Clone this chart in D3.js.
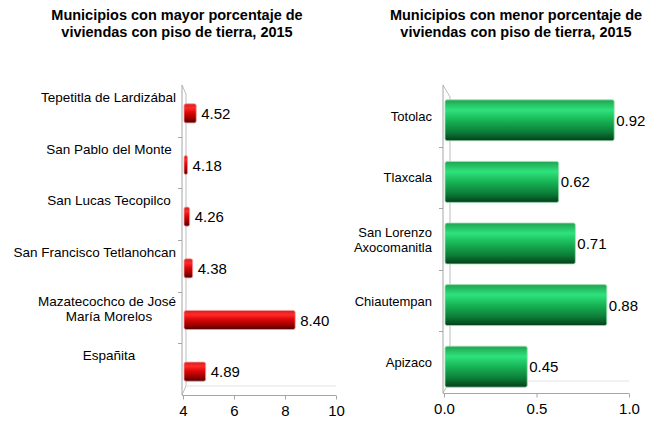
<!DOCTYPE html>
<html>
<head>
<meta charset="utf-8">
<script src="https://cdn.jsdelivr.net/npm/d3@7"></script>
<style>
    body { margin: 0; background: #fff; }
    svg text { font-family: 'Liberation Sans', Arial, sans-serif; fill: #000; }
</style>
</head>
<body>
<div id="charts"></div>
<script>
// datos
const mayorCategories = ['Tepetitla de Lardizábal', 'San Pablo del Monte', 'San Lucas Tecopilco',
    'San Francisco Tetlanohcan', 'Mazatecochco de José María Morelos', 'Españita'];
const mayorValues = [4.52, 4.18, 4.26, 4.38, 8.40, 4.89];
const mayorTicks = [4, 6, 8, 10];

const menorCategories = ['Totolac', 'Tlaxcala', 'San Lorenzo Axocomanitla', 'Chiautempan', 'Apizaco'];
const menorValues = [0.92, 0.62, 0.71, 0.88, 0.45];
const menorTicks = [0, 0.5, 1.0];

const labelLines = {
    'Mazatecochco de José María Morelos': ['Mazatecochco de José', 'María Morelos'],
    'San Lorenzo Axocomanitla': ['San Lorenzo', 'Axocomanitla']
};

(function () {
    'use strict';

    const svg = d3.select('#charts').append('svg')
        .attr('width', 646)
        .attr('height', 424);

    const defs = svg.append('defs');

    function addGradient(id, stops) {
        const g = defs.append('linearGradient').attr('id', id)
            .attr('x1', 0).attr('y1', 0).attr('x2', 0).attr('y2', 1);
        stops.forEach(function (s) {
            g.append('stop').attr('offset', s[0]).attr('stop-color', s[1]);
        });
    }

    addGradient('red-bar', [[0, '#d42020'], [0.22, '#ff2a2a'], [0.45, '#e00808'], [0.75, '#a00000'], [1, '#500000']]);
    addGradient('green-bar', [[0, '#1fa450'], [0.25, '#2ee27c'], [0.5, '#18b455'], [0.8, '#0b7a36'], [1, '#053d1a']]);

    function drawChart(opts) {
        const g = svg.append('g');

        const xScale = d3.scaleLinear().domain(opts.domain).range([opts.x0, opts.x1]);
        const yScale = d3.scaleBand().domain(opts.categories).range([opts.top, opts.bottom]).padding(0);
        const bw = yScale.bandwidth();
        const barH = bw * opts.barFrac;

        // título
        g.append('text')
            .attr('x', opts.titleX)
            .attr('y', 20)
            .attr('text-anchor', 'middle')
            .style('font-size', '14.5px')
            .style('font-weight', 'bold')
            .selectAll('tspan')
            .data(opts.title)
            .join('tspan')
            .attr('x', opts.titleX)
            .attr('dy', function (d, i) { return i === 0 ? 0 : 17; })
            .text(function (d) { return d; });

        // paredes 3D
        const wall = g.append('g').attr('stroke', '#bdbdbd').attr('fill', 'none').attr('stroke-width', 1);
        const dx = opts.depthX, dy = opts.depthY;
        wall.append('path').attr('d',
            'M' + (opts.x0 - 1) + ',' + opts.top + ' L' + (opts.x0 - 1 + dx) + ',' + (opts.top + dy) +
            ' L' + (opts.x0 - 1 + dx) + ',' + (opts.bottom - dy) + ' L' + (opts.x0 - 1) + ',' + opts.bottom);
        wall.append('line')
            .attr('x1', opts.x0 - 1 + dx).attr('x2', opts.x1)
            .attr('y1', opts.bottom - dy).attr('y2', opts.bottom - dy)
            .attr('stroke', '#e2e2e2');

        // eje vertical
        const yAxis = g.append('g').attr('stroke', '#a6a6a6');
        yAxis.append('line')
            .attr('x1', opts.x0 - 1).attr('x2', opts.x0 - 1)
            .attr('y1', opts.top).attr('y2', opts.bottom);
        yAxis.selectAll('.ytick')
            .data(opts.categories.slice(1))
            .join('line')
            .attr('class', 'ytick')
            .attr('x1', opts.x0 - 5).attr('x2', opts.x0 - 1)
            .attr('y1', function (d) { return Math.round(yScale(d)) + 0.5; })
            .attr('y2', function (d) { return Math.round(yScale(d)) + 0.5; });

        // eje horizontal
        const xAxis = d3.axisBottom(xScale)
            .tickValues(opts.ticks)
            .tickSize(4)
            .tickSizeOuter(0)
            .tickFormat(opts.tickFormat);
        const xg = g.append('g')
            .attr('transform', 'translate(0,' + (opts.bottom + 0.5) + ')')
            .call(xAxis);
        xg.select('.domain').attr('stroke', '#a6a6a6').attr('d', 'M' + (opts.x0 - 1) + ',0H' + opts.x1);
        xg.selectAll('.tick line').attr('stroke', '#a6a6a6');
        xg.selectAll('.tick text')
            .attr('y', 8)
            .attr('dy', '0.85em')
            .style('font-size', '15px')
            .style('font-family', "'Liberation Sans', Arial, sans-serif")
            .attr('fill', '#000');

        const data = opts.categories.map(function (c, i) {
            return { name: c, value: opts.values[i] };
        });

        // barras
        g.selectAll('.bar')
            .data(data)
            .join('rect')
            .attr('class', 'bar')
            .attr('x', xScale(opts.domain[0]) + 1)
            .attr('y', function (d) { return yScale(d.name) + (bw - barH) / 2 + opts.barShift; })
            .attr('width', function (d) { return xScale(d.value) - xScale(opts.domain[0]) - 1; })
            .attr('height', barH)
            .attr('rx', 2)
            .attr('fill', opts.fill)
            .attr('stroke', opts.edge)
            .attr('stroke-width', 0.8);

        // valores
        g.selectAll('.value')
            .data(data)
            .join('text')
            .attr('class', 'value')
            .attr('x', function (d) { return xScale(d.value) + opts.valueGap; })
            .attr('y', function (d) { return yScale(d.name) + bw / 2 + opts.barShift + 5.5; })
            .style('font-size', '15px')
            .text(function (d) { return d.value.toFixed(2); });

        // etiquetas de categoría
        const labels = g.selectAll('.cat')
            .data(data)
            .join('text')
            .attr('class', 'cat')
            .style('font-size', opts.labelSize)
            .attr('text-anchor', opts.labelAnchor);
        labels.each(function (d) {
            const lines = labelLines[d.name] || [d.name];
            const bc = yScale(d.name) + bw / 2;
            const y0 = opts.labelY(bc, lines.length);
            d3.select(this).selectAll('tspan')
                .data(lines)
                .join('tspan')
                .attr('x', opts.labelX)
                .attr('y', function (l, i) { return y0 + i * 15.5; })
                .text(function (l) { return l; });
        });
        if (opts.labelMaxRight) {
            labels.selectAll('tspan').each(function () {
                const w = this.getComputedTextLength();
                if (opts.labelX + w / 2 > opts.labelMaxRight) {
                    d3.select(this).attr('x', opts.labelMaxRight - w / 2);
                }
            });
        }
    }

    drawChart({
        title: ['Municipios con mayor porcentaje de', 'viviendas con piso de tierra, 2015'],
        titleX: 177,
        categories: mayorCategories,
        values: mayorValues,
        ticks: mayorTicks,
        domain: [4, 10],
        tickFormat: d3.format('d'),
        x0: 183, x1: 336,
        top: 85, bottom: 395,
        depthX: 4, depthY: 9,
        barFrac: 0.37,
        barShift: 2.5,
        fill: 'url(#red-bar)',
        edge: '#f0a0a0',
        valueGap: 5,
        labelSize: '13.5px',
        labelAnchor: 'middle',
        labelX: 109,
        labelMaxRight: 176,
        labelY: function (bc, n) { return bc - 9 - (n - 1) * 3; }
    });

    drawChart({
        title: ['Municipios con menor porcentaje de', 'viviendas con piso de tierra, 2015'],
        titleX: 516,
        categories: menorCategories,
        values: menorValues,
        ticks: menorTicks,
        domain: [0, 1],
        tickFormat: d3.format('.1f'),
        x0: 444, x1: 629,
        top: 85, bottom: 393,
        depthX: 7, depthY: 12,
        barFrac: 0.665,
        barShift: 4.5,
        fill: 'url(#green-bar)',
        edge: '#9fe0b5',
        valueGap: 2,
        labelSize: '13px',
        labelAnchor: 'end',
        labelX: 432,
        labelMaxRight: null,
        labelY: function (bc, n) { return bc + 5 - (n - 1) * 7.5; }
    });
}());
</script>
</body>
</html>
